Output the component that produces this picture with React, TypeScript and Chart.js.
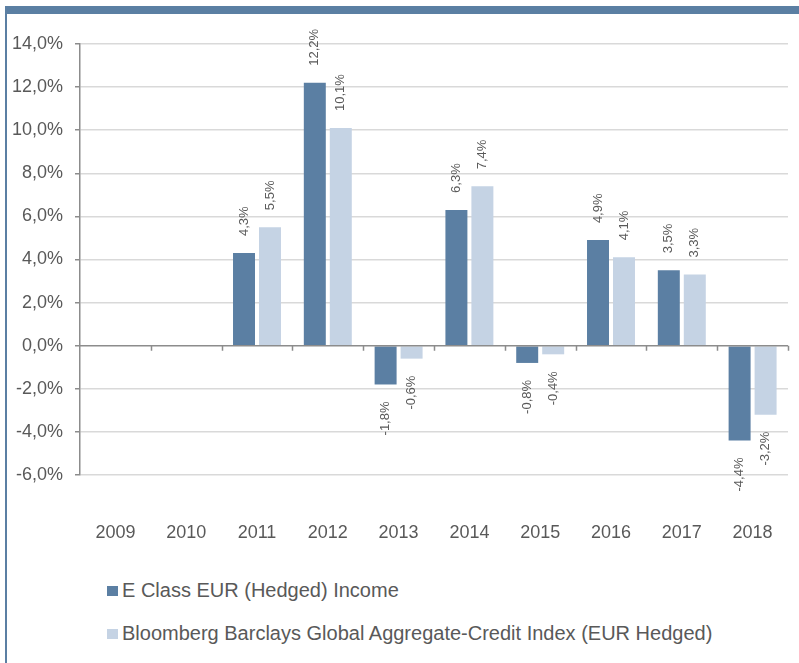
import React, { useEffect, useRef } from "react";
import { Chart, registerables } from "chart.js";

Chart.register(...registerables);

const categories = ["2009", "2010", "2011", "2012", "2013", "2014", "2015", "2016", "2017", "2018"];
const fundValues: (number | null)[] = [null, null, 4.3, 12.2, -1.8, 6.3, -0.8, 4.9, 3.5, -4.4];
const indexValues: (number | null)[] = [null, null, 5.5, 10.1, -0.6, 7.4, -0.4, 4.1, 3.3, -3.2];
const seriesNames = ["E Class EUR (Hedged) Income", "Bloomberg Barclays Global Aggregate-Credit Index (EUR Hedged)"];
const yMin = -6;
const yMax = 14;
const yStep = 2;

const DARK = "#5b7fa3";
const LIGHT = "#c5d3e4";
const TEXT = "#595959";
const AXIS = "#8c8c8c";
const FONT = "'Liberation Sans', Arial, sans-serif";

const fmt = (v: number, d: number) => v.toFixed(d).replace(".", ",") + "%";

const labelPlugin = {
  id: "valueLabels",
  afterDatasetsDraw(chart: any) {
    const ctx = chart.ctx;
    const area = chart.chartArea;
    const yScale = chart.scales.y;
    const zeroY = yScale.getPixelForValue(0);
    // zero axis line
    ctx.save();
    ctx.strokeStyle = AXIS;
    ctx.lineWidth = 1.5;
    ctx.beginPath();
    ctx.moveTo(area.left, zeroY);
    ctx.lineTo(area.right, zeroY);
    ctx.stroke();
    const n = categories.length;
    const w = (area.right - area.left) / n;
    ctx.beginPath();
    for (let k = 1; k <= n; k++) {
      const x = Math.round(area.left + w * k) + 0.5;
      ctx.moveTo(x, zeroY);
      ctx.lineTo(x, zeroY + 5);
    }
    ctx.stroke();
    // value labels
    ctx.fillStyle = TEXT;
    ctx.font = `13px ${FONT}`;
    ctx.textBaseline = "middle";
    chart.data.datasets.forEach((ds: any, di: number) => {
      const meta = chart.getDatasetMeta(di);
      meta.data.forEach((bar: any, i: number) => {
        const v = ds.data[i];
        if (v === null || v === undefined) return;
        const gap = 17;
        ctx.save();
        if (v >= 0) {
          ctx.translate(bar.x, bar.y - gap);
          ctx.rotate(-Math.PI / 2);
          ctx.textAlign = "left";
        } else {
          ctx.translate(bar.x, bar.y + gap);
          ctx.rotate(-Math.PI / 2);
          ctx.textAlign = "right";
        }
        ctx.fillText(fmt(v, 1), 0, 0);
        ctx.restore();
      });
    });
    ctx.restore();
  },
};

export default function App() {
  const ref = useRef<HTMLCanvasElement | null>(null);
  useEffect(() => {
    document.body.style.margin = "0";
    if (!ref.current) return;
    const chart = new Chart(ref.current, {
      type: "bar",
      data: {
        labels: categories,
        datasets: [
          { label: seriesNames[0], data: fundValues, backgroundColor: DARK, barPercentage: 0.846, categoryPercentage: 0.734 },
          { label: seriesNames[1], data: indexValues, backgroundColor: LIGHT, barPercentage: 0.846, categoryPercentage: 0.734 },
        ],
      },
      options: {
        animation: false,
        responsive: false,
        maintainAspectRatio: false,
        layout: { padding: { left: 0, right: 11, top: 44, bottom: 0 } },
        plugins: { legend: { display: false }, tooltip: { enabled: false } },
        scales: {
          x: {
            grid: { display: false, drawTicks: true, tickLength: 44 },
            border: { display: false },
            ticks: { padding: 3, color: TEXT, font: { family: FONT, size: 18 }, maxRotation: 0 },
            afterFit: (s: any) => { s.height = 560 - 475; s.paddingLeft = 0; s.paddingRight = 0; },
          },
          y: {
            min: yMin,
            max: yMax,
            ticks: {
              stepSize: yStep,
              padding: 12,
              color: TEXT,
              font: { family: FONT, size: 18 },
              callback: (v: any) => fmt(Number(v), 1),
            },
            grid: {
              color: (c: any) => (c.tick && c.tick.value === 0 ? "rgba(0,0,0,0)" : "#d9d9d9"),
              lineWidth: 1.5,
              tickColor: AXIS,
              tickLength: 5,
            },
            border: { color: AXIS, width: 1.5 },
            afterFit: (s: any) => { s.width = 80; },
          },
        },
      },
      plugins: [labelPlugin],
    });
    return () => chart.destroy();
  }, []);

  const legendRow = (color: string, text: string, top: number) => (
    <div style={{ position: "absolute", left: 107, top, display: "flex", alignItems: "center", fontFamily: FONT, fontSize: 20, color: TEXT, whiteSpace: "nowrap" }}>
      <span style={{ display: "inline-block", width: 11, height: 10, background: color, marginRight: 4 }} />
      <span>{text}</span>
    </div>
  );

  return (
    <div style={{ position: "relative", width: 799, height: 663, overflow: "hidden", background: "#fff" }}>
      <canvas ref={ref} width={799} height={560} style={{ position: "absolute", left: 0, top: 0, width: 799, height: 560 }} />
      <div style={{ position: "absolute", left: 5, top: 6, width: 794, height: 8, background: DARK }} />
      <div style={{ position: "absolute", left: 5, top: 6, width: 2, height: 657, background: DARK }} />
      {legendRow(DARK, seriesNames[0], 579)}
      {legendRow(LIGHT, seriesNames[1], 622)}
    </div>
  );
}
